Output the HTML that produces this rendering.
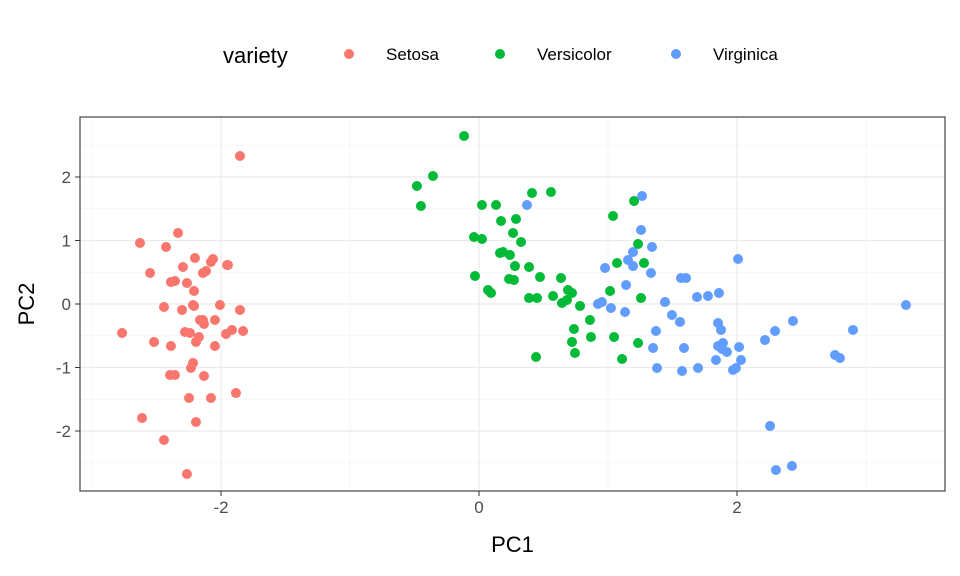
<!DOCTYPE html>
<html><head><meta charset="utf-8"><style>body{margin:0;background:#fff}svg{display:block;font-family:"Liberation Sans",sans-serif}</style></head>
<body>
<svg id="chart" width="960" height="576"></svg>
<script>
const xTicks=[-2,0,2];
const yTicks=[-2,-1,0,1,2];
const seriesNames=["Setosa","Versicolor","Virginica"];
const seriesColors=["#F8766D","#00BA38","#619CFF"];
const setosaPx=[[240,156],[140,243],[178,233],[166,247],[150,273],[183,267],[195,258],[213,259],[206,271],[228,265],[211,262],[203,273],[175,281],[171,282],[187,283],[194,291],[227,265],[240,310],[164,307],[193,305],[200,320],[204,324],[185,332],[190,333],[199,337],[215,320],[243,331],[232,330],[226,334],[122,333],[154,342],[171,346],[196,342],[215,346],[193,363],[191,368],[175,375],[170,375],[204,376],[236,393],[189,398],[211,398],[142,418],[164,440],[196,422],[187,474],[194,306],[182,310],[220,305],[203,320]];
const versicolorPx=[[464,136],[433,176],[417,186],[421,206],[482,205],[496,205],[532,193],[551,192],[474,237],[482,239],[501,221],[516,219],[513,233],[521,242],[503,252],[510,255],[515,266],[500,253],[475,276],[488,290],[491,293],[509,279],[514,280],[529,267],[540,277],[561,278],[568,290],[572,293],[537,298],[553,296],[562,303],[567,300],[580,306],[529,298],[613,216],[634,201],[638,244],[644,263],[617,263],[610,291],[641,298],[574,329],[572,342],[575,353],[590,320],[591,337],[536,357],[614,337],[622,359],[638,343]];
const virginicaPx=[[527,205],[642,196],[641,230],[652,247],[633,252],[628,260],[633,266],[605,268],[651,273],[681,278],[686,278],[626,285],[598,304],[602,302],[611,308],[665,302],[738,259],[708,296],[719,293],[672,315],[680,322],[718,323],[721,330],[723,343],[656,331],[653,348],[684,348],[657,368],[682,371],[698,368],[718,346],[722,349],[716,360],[727,352],[741,360],[739,347],[736,368],[733,370],[765,340],[775,331],[793,321],[835,355],[840,358],[853,330],[906,305],[770,426],[776,470],[792,466],[697,297],[625,312]];
const toData=p=>p.map(([a,b])=>[+((a-479)/129).toFixed(3),+((304-b)/63.5).toFixed(3)]);
const setosa=toData(setosaPx), versicolor=toData(versicolorPx), virginica=toData(virginicaPx);
const series=[setosa,versicolor,virginica];

const L=80,R=945,T=117,B=491;
const sx=v=>479+v*129, sy=v=>304-v*63.5;
const svg=document.getElementById('chart'),NS="http://www.w3.org/2000/svg";
function mk(t,a,p){const e=document.createElementNS(NS,t);for(const k in a)e.setAttribute(k,a[k]);(p||svg).appendChild(e);return e;}
const grid=mk('g',{});


for(let v=-3;v<=3.5;v+=1){mk('line',{x1:sx(v),x2:sx(v),y1:T,y2:B,stroke:'#f0f0f0','stroke-width':0.6},grid);}
for(let v=-2.5;v<=2.5;v+=1){mk('line',{x1:L,x2:R,y1:sy(v),y2:sy(v),stroke:'#f0f0f0','stroke-width':0.6},grid);}
xTicks.forEach(v=>mk('line',{x1:sx(v),x2:sx(v),y1:T,y2:B,stroke:'#ebebeb','stroke-width':1.2},grid));
yTicks.forEach(v=>mk('line',{x1:L,x2:R,y1:sy(v),y2:sy(v),stroke:'#ebebeb','stroke-width':1.2},grid));
const pts=mk('g',{});


series.forEach((s,i)=>s.forEach(([x,y])=>{const c=mk('circle',{cx:sx(x),cy:sy(y),r:5,fill:seriesColors[i]},pts);

}));
const fr=mk('rect',{x:L,y:T,width:R-L,height:B-T,fill:'none',stroke:'#333','stroke-width':1.1});


xTicks.forEach(v=>{mk('line',{x1:sx(v),x2:sx(v),y1:B,y2:B+5,stroke:'#333'});
const t=mk('text',{x:sx(v),y:B+22,'text-anchor':'middle','font-size':17,fill:'#4d4d4d'});t.textContent=v;

});
yTicks.forEach(v=>{mk('line',{x1:L-5,x2:L,y1:sy(v),y2:sy(v),stroke:'#333'});
const t=mk('text',{x:L-9,y:sy(v)+6,'text-anchor':'end','font-size':17,fill:'#4d4d4d'});t.textContent=v;

});
const xt=mk('text',{x:(L+R)/2,y:552,'text-anchor':'middle','font-size':22,fill:'#000'});xt.textContent='PC1';


const yt=mk('text',{x:0,y:0,transform:`translate(34,${(T+B)/2}) rotate(-90)`,'text-anchor':'middle','font-size':22,fill:'#000'});yt.textContent='PC2';


const lg=mk('g',{});


const lt=mk('text',{x:223,y:63,'font-size':22,fill:'#000'},lg);lt.textContent='variety';


const lx=[349,500,676];
seriesNames.forEach((n,i)=>{mk('circle',{cx:lx[i],cy:54,r:5,fill:seriesColors[i]},lg);
const t=mk('text',{x:lx[i]+37,y:60,'font-size':17,fill:'#000'},lg);t.textContent=n;

});
</script>
</body></html>
